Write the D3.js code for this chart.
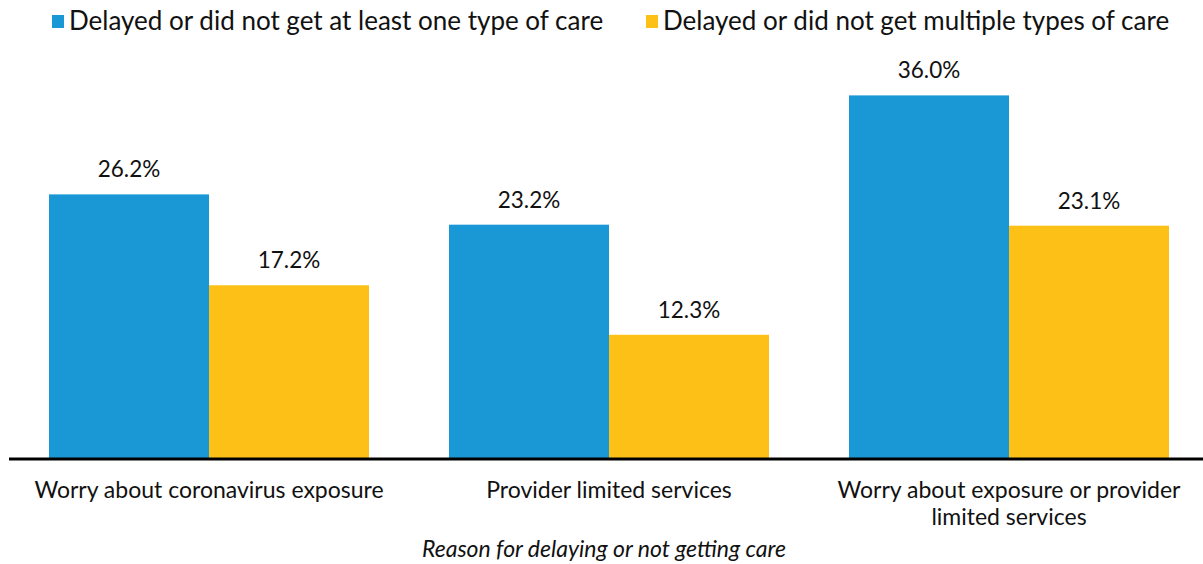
<!DOCTYPE html>
<html><head><meta charset="utf-8">
<script src="https://cdn.jsdelivr.net/npm/d3@7"></script>
<style>body{margin:0;background:#fff;} svg{display:block;} text{font-family:Lato,"Open Sans",sans-serif;fill:#111;}</style>
</head><body><svg id="c" width="1203" height="564"></svg>
<script>
const categories = ["Worry about coronavirus exposure", "Provider limited services", "Worry about exposure or provider limited services"];
const categoryLines = [["Worry about coronavirus exposure"], ["Provider limited services"], ["Worry about exposure or provider", "limited services"]];
const seriesNames = ["Delayed or did not get at least one type of care", "Delayed or did not get multiple types of care"];
const atLeastOne = [26.2, 23.2, 36.0];
const multiple = [17.2, 12.3, 23.1];
const colors = ["#1998d5", "#fdc016"];
const axisTitle = "Reason for delaying or not getting care";

const svg = d3.select("#c");
const baseY = 459;
const x0 = d3.scaleBand().domain(categories).range([9, 1209]).paddingInner(0.2).paddingOuter(0.1);
const x1 = d3.scaleBand().domain([0, 1]).range([0, x0.bandwidth()]);
const y = d3.scaleLinear().domain([0, 40]).range([baseY, 55]);
const series = [atLeastOne, multiple];

categories.forEach((c, i) => {
  const g = svg.append("g").attr("transform", `translate(${x0(c)},0)`);
  series.forEach((s, k) => {
    g.append("rect").attr("x", x1(k)).attr("width", x1.bandwidth())
      .attr("y", y(s[i])).attr("height", baseY - y(s[i])).attr("fill", colors[k]);
    g.append("text").attr("x", x1(k) + x1.bandwidth() / 2).attr("y", y(s[i]) - 17)
      .attr("text-anchor", "middle").attr("font-size", 22.5).text(s[i].toFixed(1) + "%");
  });
});

const axis = d3.axisBottom(x0).tickSize(0).tickFormat("");
const ag = svg.append("g").attr("transform", `translate(0,${baseY})`).call(axis);
ag.select(".domain").remove();
ag.append("line").attr("x1", 9).attr("x2", 1203).attr("y1", 0).attr("y2", 0).attr("stroke", "#000").attr("stroke-width", 3);

categories.forEach((c, i) => {
  const t = svg.append("text").attr("text-anchor", "middle").attr("font-size", 23)
    .attr("x", x0(c) + x0.bandwidth() / 2).attr("y", 498);
  categoryLines[i].forEach((ln, j) => t.append("tspan").attr("x", x0(c) + x0.bandwidth() / 2).attr("dy", j === 0 ? 0 : 27).text(ln));
});

svg.append("text").attr("x", 604).attr("y", 557).attr("text-anchor", "middle")
  .attr("font-size", 23).attr("font-style", "italic").text(axisTitle);

const legendX = [52, 646];
seriesNames.forEach((n, k) => {
  svg.append("rect").attr("x", legendX[k]).attr("y", 15).attr("width", 12).attr("height", 13).attr("fill", colors[k]);
  svg.append("text").attr("x", legendX[k] + 17).attr("y", 30).attr("font-size", 26).text(n);
});
</script></body></html>
